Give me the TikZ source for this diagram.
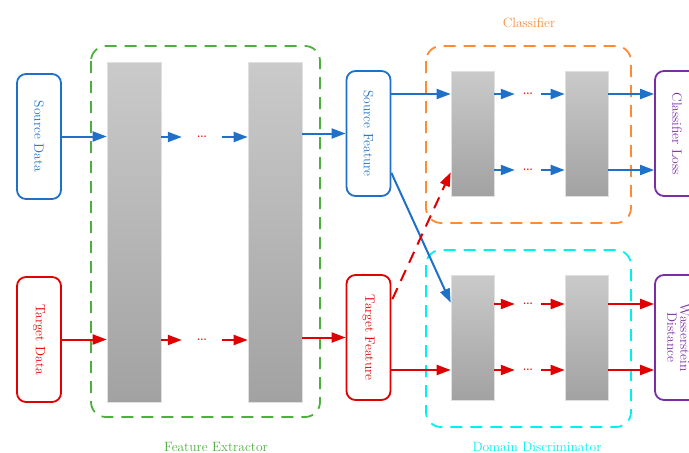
\documentclass[tikz,border=0pt]{standalone}
\usetikzlibrary{arrows.meta,calc}
\definecolor{cblue}{HTML}{1F70C8}
\definecolor{cred}{HTML}{E00000}
\definecolor{cgreen}{HTML}{4DAF3E}
\definecolor{corange}{HTML}{FF8A33}
\definecolor{ccyan}{HTML}{00F0F0}
\definecolor{cpurple}{HTML}{7A2EA6}
\definecolor{bartop}{HTML}{CACACA}
\definecolor{barbot}{HTML}{A2A2A2}
\tikzset{
  x=1pt,y=-1pt,
  txt/.style={font=\fontsize{13.5}{16}\selectfont},
  lbl/.style={txt,inner sep=0pt,anchor=base},
  iobox/.style={txt,draw,line width=1.8pt,rounded corners=9pt,minimum width=44pt,inner sep=0pt},
  bar/.style={draw=black!12,line width=0.6pt,top color=bartop,bottom color=barbot,inner sep=0pt},
  group/.style={line width=1.8pt,dash pattern=on 12pt off 8pt,rounded corners=15pt},
  dots/.style={text=cred,font=\fontsize{10}{10}\selectfont\bfseries,inner sep=0pt,minimum height=8pt},
  arr/.style={line width=2pt,-{Triangle[length=14pt,width=10pt]}},
}
\begin{document}
\begin{tikzpicture}
\useasboundingbox (0,0) rectangle (689,453);
\clip (0,0) rectangle (689,453);
% groups
\draw[group,cgreen] (91,46) rectangle (320,417);
\draw[group,corange] (426,46) rectangle (631,223);
\draw[group,ccyan] (426,250) rectangle (631,427);
\node[lbl,text=cgreen] (lfe) at (216,451.5) {Feature Extractor};
\node[lbl,text=corange] (lcl) at (529,27) {Classifier};
\node[lbl,text=ccyan] (ldd) at (537,451.5) {Domain Discriminator};
% input boxes
\node[iobox,cblue,minimum height=125pt] (sd) at (39,136.5) {\rotatebox{-90}{Source Data}};
\node[iobox,cred,minimum height=125pt] (td) at (39,339.5) {\rotatebox{-90}{Target Data}};
% feature extractor bars
\node[bar,minimum width=54pt,minimum height=340pt] (b1) at (134,232) {};
\node[bar,minimum width=54pt,minimum height=340pt] (b2) at (275,232) {};
\node[dots,minimum width=40pt] (d1) at (202,137) {...};
\node[dots,minimum width=40pt] (d2) at (202,340) {...};
% features
\node[iobox,cblue,minimum height=125pt] (sf) at (368.5,133.5) {\rotatebox{-90}{Source Feature}};
\node[iobox,cred,minimum height=125pt] (tf) at (368.5,337.5) {\rotatebox{-90}{Target Feature}};
% classifier bars
\node[bar,minimum width=43pt,minimum height=125pt] (c1) at (472.5,133.5) {};
\node[bar,minimum width=43pt,minimum height=125pt] (c2) at (586.5,133.5) {};
\node[dots,minimum width=26pt] (cd1) at (528,94) {...};
\node[dots,minimum width=26pt] (cd2) at (528,170) {...};
% discriminator bars
\node[bar,minimum width=43pt,minimum height=125pt] (e1) at (472.5,337.5) {};
\node[bar,minimum width=43pt,minimum height=125pt] (e2) at (586.5,337.5) {};
\node[dots,minimum width=26pt] (ed1) at (528,304) {...};
\node[dots,minimum width=26pt] (ed2) at (528,370) {...};
% outputs
\node[iobox,cpurple,minimum height=125pt] (cl) at (677,133.5) {\rotatebox{-90}{Classifier Loss}};
\node[iobox,cpurple,minimum height=125pt] (wd) at (677,337.5) {\rotatebox{-90}{\begin{tabular}{@{}c@{}}Wasserstein\\[-3pt]Distance\end{tabular}}};
% arrows feature extractor
\draw[arr,cblue] (sd.east) -- (b1.west |- sd.east);
\draw[arr,cred] (td.east) -- (b1.west |- td.east);
\draw[arr,cblue] (b1.east |- d1) -- (d1.west);
\draw[arr,cblue] (d1.east) -- (b2.west |- d1);
\draw[arr,cred] (b1.east |- d2) -- (d2.west);
\draw[arr,cred] (d2.east) -- (b2.west |- d2);
\draw[arr,cblue] (b2.east |- sf.west) -- (sf.west);
\draw[arr,cred] (b2.east |- tf.west) -- (tf.west);
% classifier
\draw[arr,cblue] (sf.east |- cd1) -- (c1.west |- cd1);
\draw[arr,cblue] (c1.east |- cd1) -- (cd1.west);
\draw[arr,cblue] (cd1.east) -- (c2.west |- cd1);
\draw[arr,cblue] (c1.east |- cd2) -- (cd2.west);
\draw[arr,cblue] (cd2.east) -- (c2.west |- cd2);
\draw[arr,cblue] (c2.east |- cd1) -- (cl.west |- cd1);
\draw[arr,cblue] (c2.east |- cd2) -- (cl.west |- cd2);
% discriminator
\draw[arr,cred] (tf.east |- ed2) -- (e1.west |- ed2);
\draw[arr,cred] (e1.east |- ed1) -- (ed1.west);
\draw[arr,cred] (ed1.east) -- (e2.west |- ed1);
\draw[arr,cred] (e1.east |- ed2) -- (ed2.west);
\draw[arr,cred] (ed2.east) -- (e2.west |- ed2);
\draw[arr,cred] (e2.east |- ed1) -- (wd.west |- ed1);
\draw[arr,cred] (e2.east |- ed2) -- (wd.west |- ed2);
% cross arrows
\draw[arr,cblue] ($(sf.south east)+(0,-24)$) -- ($(e1.north west)+(0,28)$);
\draw[arr,cred,dash pattern=on 12pt off 8pt] ($(tf.north east)+(1,25)$) -- ($(c1.south west)+(0,-24)$);
\end{tikzpicture}
\end{document}
